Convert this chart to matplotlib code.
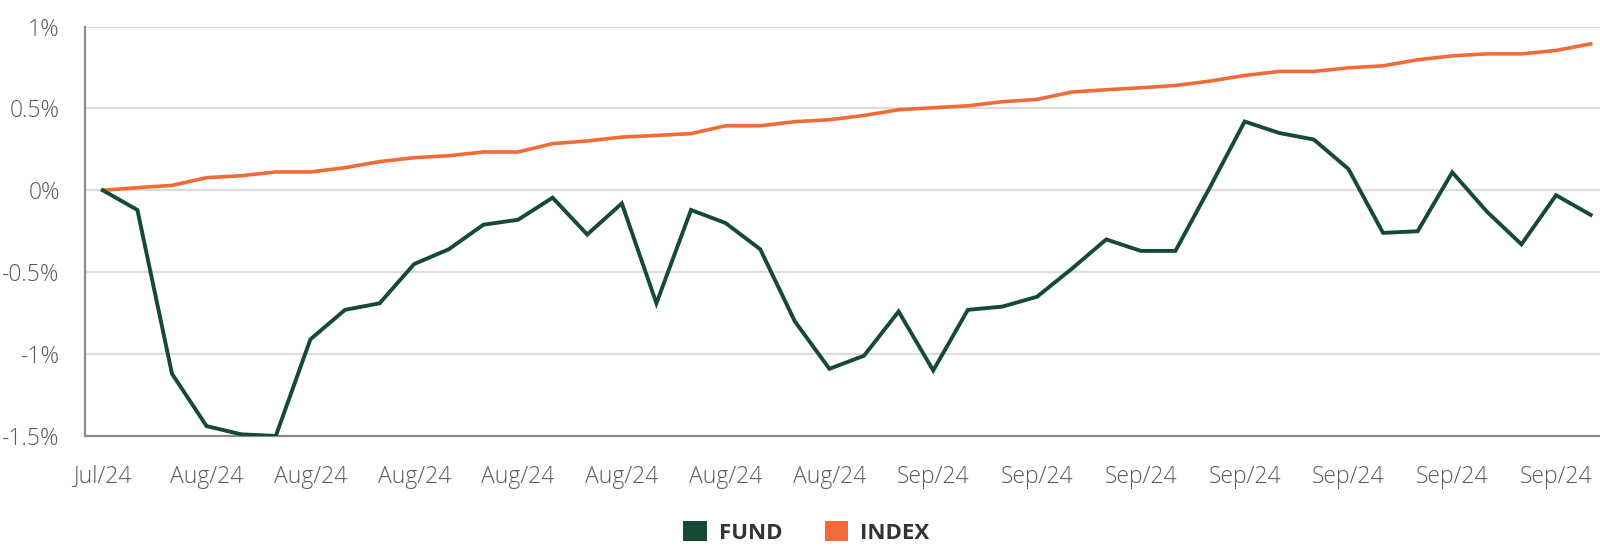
import matplotlib
matplotlib.use("Agg")
import matplotlib.pyplot as plt
from matplotlib import font_manager
from matplotlib.patches import Patch
from matplotlib.ticker import FuncFormatter

# cumulative return, percent
fund = [0.0, -0.12, -1.12, -1.44, -1.49, -1.50, -0.91, -0.73, -0.69, -0.45,
        -0.36, -0.21, -0.18, -0.045, -0.27, -0.08, -0.69, -0.12, -0.20, -0.36,
        -0.80, -1.09, -1.01, -0.74, -1.10, -0.73, -0.71, -0.65, -0.48, -0.30,
        -0.37, -0.37, 0.02, 0.42, 0.35, 0.31, 0.13, -0.26, -0.25, 0.11,
        -0.13, -0.33, -0.03, -0.15]
index = [0.0, 0.016, 0.03, 0.077, 0.089, 0.112, 0.112, 0.138, 0.175, 0.199,
         0.211, 0.234, 0.234, 0.285, 0.301, 0.325, 0.335, 0.346, 0.394, 0.394,
         0.419, 0.431, 0.457, 0.492, 0.504, 0.516, 0.541, 0.555, 0.600, 0.614,
         0.626, 0.640, 0.667, 0.701, 0.726, 0.726, 0.748, 0.760, 0.797, 0.821,
         0.833, 0.833, 0.854, 0.894]
tick_pos = [0, 3, 6, 9, 12, 15, 18, 21, 24, 27, 30, 33, 36, 39, 42]
tick_labels = ["Jul/24"] + ["Aug/24"] * 7 + ["Sep/24"] * 7
y_ticks = [-1.5, -1.0, -0.5, 0.0, 0.5, 1.0]

installed = {f.name for f in font_manager.fontManager.ttflist}
family = "DejaVu Sans"
for name in ["Liberation Sans Narrow", "Open Sans", "Roboto"]:
    if name in installed:
        family = name
        break
plt.rcParams["font.family"] = family

FUND_C = "#154a33"
INDEX_C = "#f26a36"

fig = plt.figure(figsize=(16, 5.47), dpi=100)
ax = fig.add_axes([0.053, 0.203, 0.947, 0.7485])

x = list(range(len(fund)))
ax.plot(x, index, color=INDEX_C, lw=2.6, zorder=3, solid_joinstyle="miter")
ax.plot(x, fund, color=FUND_C, lw=2.8, zorder=4, solid_joinstyle="miter")

ax.set_xlim(-0.52, 43.27)
ax.set_ylim(-1.5, 1.0)
ax.set_yticks(y_ticks)
ax.yaxis.set_major_formatter(FuncFormatter(lambda v, p: f"{v:g}%"))
ax.set_xticks(tick_pos)
ax.set_xticklabels(tick_labels)

ax.grid(axis="y", color="#dcdcdc", lw=1.6, zorder=0)
ax.set_axisbelow(True)
for s in ["top", "right"]:
    ax.spines[s].set_visible(False)
for s in ["left", "bottom"]:
    ax.spines[s].set_color("#8c8c8c")
    ax.spines[s].set_linewidth(1.6)

ax.tick_params(axis="both", length=0, labelsize=16.5, labelcolor="#5a5a5a")
ax.tick_params(axis="y", pad=18)
ax.tick_params(axis="x", pad=21)
for lbl in ax.get_xticklabels() + ax.get_yticklabels():
    lbl.set_fontweight("light")

handles = [Patch(facecolor=FUND_C, label="FUND"),
           Patch(facecolor=INDEX_C, label="INDEX")]
fig.legend(handles=handles, loc="center", bbox_to_anchor=(0.504, 0.027),
           ncol=2, frameon=False, handlelength=1.05, handleheight=1.05,
           handletextpad=0.55, columnspacing=1.9,
           prop={"size": 16, "weight": "bold"}, labelcolor="#333333")

fig.savefig("out.png", dpi=100)
